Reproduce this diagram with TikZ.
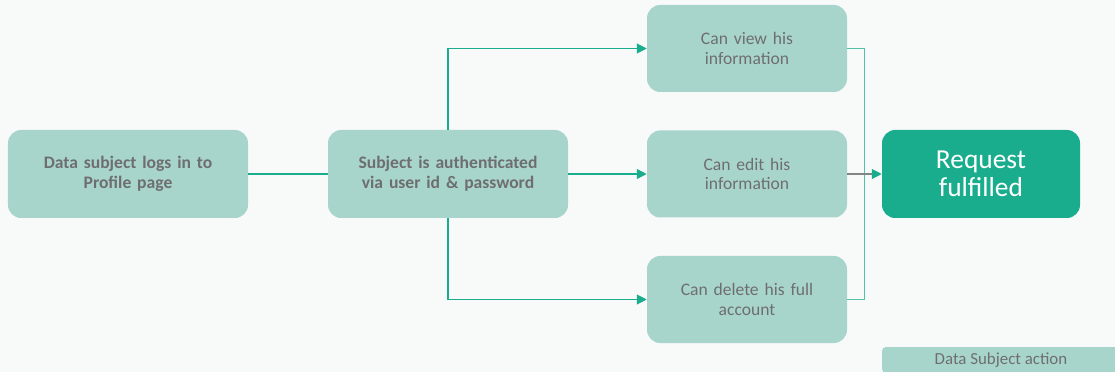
\documentclass[tikz,border=0pt]{standalone}
\usepackage{fontspec}
\setmainfont{Carlito}
\usepackage{tikz}
\usetikzlibrary{shapes.geometric, arrows.meta}
\definecolor{boxfill}{HTML}{A8D5CB}
\definecolor{boxtext}{HTML}{6E6E70}
\definecolor{linegreen}{HTML}{1AAD8D}
\definecolor{bgcolor}{HTML}{F8F9F9}
\tikzset{
  stepnode/.style = {shape=rectangle, rounded corners=0.33cm,
                     fill=boxfill, text=boxtext, anchor=center,
                     minimum width=5cm, minimum height=2.175cm,
                     text width=4.6cm, align=center, inner sep=1ex,
                     font=\fontsize{12.5}{14}\selectfont},
  stepnodewide/.style = {stepnode, minimum width=6cm, minimum height=2.2cm,
                     font=\fontsize{12.5}{14}\selectfont\bfseries},
  endnode/.style = {stepnode, fill=linegreen, text=white,
                     minimum width=4.95cm, minimum height=2.2cm,
                     font=\fontsize{19.5}{20}\selectfont},
  legendnode/.style = {shape=rectangle, rounded corners=0.1cm, fill=boxfill,
                     text=boxtext, minimum width=5.95cm, minimum height=0.65cm,
                     inner sep=0pt, font=\fontsize{12}{14}\selectfont},
  link/.style = {draw=linegreen, line width=0.8pt},
  arrow/.style = {link, -{Triangle[length=7pt,width=7pt]}},
  grayarrow/.style = {draw=boxtext!85, line width=0.8pt,
                     -{Triangle[length=7pt,width=7pt,color=linegreen]}}
}
\begin{document}
\begin{tikzpicture}[node distance=8cm]
            \fill [bgcolor] (0,0) rectangle (27.875,-9.3);
            \useasboundingbox (0,0) rectangle (27.875,-9.3);

            \node (login) [stepnodewide] at (3.2,-4.35) {Data subject logs in to \\ Profile page};
            \node (auth) [stepnodewide, right of=login] {Subject is authenticated \\ via user id \& password};
            \node (edit) [stepnode, right of=auth, xshift=-0.525cm] {Can edit his \\ information};
            \node (view) [stepnode, node distance=3.1375cm, above of=edit] {Can view his \\ information};
            \node (del) [stepnode, node distance=3.1375cm, below of=edit] {Can delete his full \\ account};
            \node (done) [endnode, node distance=5.85cm, right of=edit] {Request \\ fulfilled};
            \begin{scope}
                \clip (0,0) rectangle (27.875,-9.3);
                \node (legend) [legendnode] at (25.025,-9.0) {Data Subject action};
            \end{scope}

            \draw [link] (login) -- (auth);
            \draw [arrow] (auth) -- (edit);
            \draw [arrow] (auth.north) |- (view.west);
            \draw [arrow] (auth.south) |- (del.west);
            \draw [link, draw=linegreen!75] (view.east) -- ++ (0.425cm,0cm) |- (del.east);
            \draw [grayarrow] (edit) -- (done);
        \end{tikzpicture}
\end{document}
